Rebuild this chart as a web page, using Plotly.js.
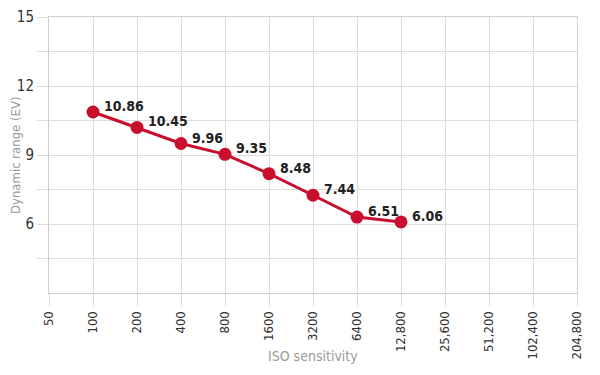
<!DOCTYPE html>
<html>
<head>
<meta charset="utf-8">
<script src="https://cdn.plot.ly/plotly-3.0.1.min.js"></script>
<style>
html,body{margin:0;padding:0;background:#fff;}
#chart{width:600px;height:375px;}
#chart svg text{font-stretch:condensed !important;}
</style>
</head>
<body>
<div id="chart"></div>
<script>
// ISO categories shown on the x axis
var isoCategories = ["50","100","200","400","800","1600","3200","6400","12,800","25,600","51,200","102,400","204,800"];
// Measured ISO settings
var isoMeasured = ["100","200","400","800","1600","3200","6400","12,800"];
// Point heights (EV)
var dynamicRange = [10.87, 10.2, 9.5, 9.03, 8.19, 7.25, 6.3, 6.09];
// Printed value labels
var valueLabels = ["10.86","10.45","9.96","9.35","8.48","7.44","6.51","6.06"];
// Y axis gridlines and labels
var yGrid = [4.5, 6, 7.5, 9, 10.5, 12, 13.5, 15];
var yGridText = ["", "6", "", "9", "", "12", "", "15"];
var xTitle = "ISO sensitivity";
var yTitle = "Dynamic range (EV)";

var FONT = "'DejaVu Sans Condensed', 'Liberation Sans Narrow', 'Arial Narrow', sans-serif";
var RED = "#c8102e";
var GRID = "#dcdcdc";

var trace = {
  type: "scatter",
  mode: "lines+markers",
  x: isoMeasured,
  y: dynamicRange,
  line: {color: RED, width: 3},
  marker: {color: RED, size: 13},
  hoverinfo: "skip"
};

var annotations = isoMeasured.map(function (c, i) {
  return {
    x: isoCategories.indexOf(c), y: dynamicRange[i], text: valueLabels[i],
    xref: "x", yref: "y", showarrow: false,
    xanchor: "left", yanchor: "middle", xshift: 9, yshift: 6,
    font: {family: FONT, size: 14, color: "#222", weight: "bold"}
  };
});
annotations.push({
  text: xTitle, xref: "paper", yref: "paper", x: 0.5, y: 0,
  xanchor: "center", yanchor: "middle", yshift: -63, showarrow: false,
  font: {family: FONT, size: 14, color: "#9a9a9a"}
});
annotations.push({
  text: yTitle, xref: "paper", yref: "paper", x: 0, y: 0.5, textangle: -90,
  xanchor: "center", yanchor: "middle", xshift: -34, showarrow: false,
  font: {family: FONT, size: 13, color: "#9a9a9a"}
});

var layout = {
  width: 600, height: 375,
  margin: {l: 49, r: 23, t: 17, b: 82},
  paper_bgcolor: "#fff", plot_bgcolor: "#fff",
  showlegend: false,
  xaxis: {
    type: "category",
    categoryorder: "array",
    categoryarray: isoCategories,
    tickvals: isoCategories,
    range: [0, isoCategories.length - 1],
    tickangle: -90,
    ticks: "outside", ticklen: 12, tickcolor: GRID, tickwidth: 1,
    showgrid: true, gridcolor: GRID, gridwidth: 1,
    showline: true, linecolor: "#cfcfcf", linewidth: 1, mirror: true,
    zeroline: false,
    tickfont: {family: FONT, size: 13, color: "#333"}
  },
  yaxis: {
    range: [3, 15],
    tickvals: yGrid,
    ticktext: yGridText,
    ticks: "outside", ticklen: 11, tickcolor: GRID, tickwidth: 1,
    showgrid: true, gridcolor: GRID, gridwidth: 1,
    showline: true, linecolor: "#cfcfcf", linewidth: 1, mirror: true,
    zeroline: false,
    tickfont: {family: FONT, size: 15, color: "#333"}
  },
  annotations: annotations
};

Plotly.newPlot("chart", [trace], layout, {staticPlot: true, displayModeBar: false});
</script>
</body>
</html>
